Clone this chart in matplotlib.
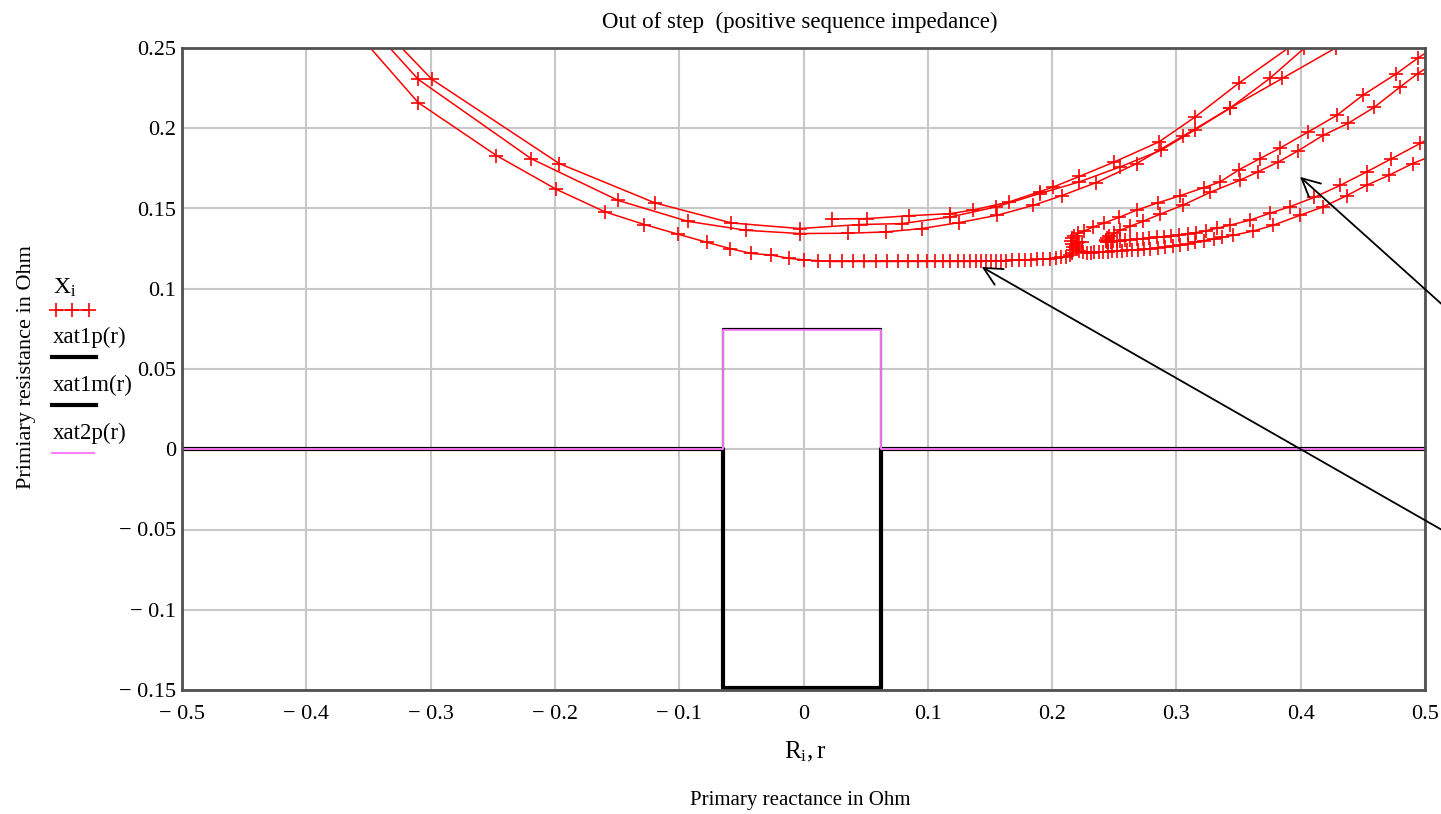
import matplotlib.pyplot as plt
from matplotlib.lines import Line2D
from matplotlib.ticker import FuncFormatter, MultipleLocator

plt.rcParams['font.family'] = ['Liberation Serif', 'DejaVu Serif']
plt.rcParams['mathtext.fontset'] = 'custom'
plt.rcParams['mathtext.rm'] = 'Liberation Serif'
plt.rcParams['mathtext.it'] = 'Liberation Serif:italic'

# impedance trajectory X_i(R_i), split into the branches that cross the frame
# branch 1: swing in from upper left, slow creep along the bottom, turn and leave upper right
R_a = [-0.362, -0.310, -0.247, -0.199, -0.160, -0.128, -0.101, -0.078, -0.059, -0.042,
       -0.026, -0.012, 0.000, 0.012, 0.021, 0.031, 0.040, 0.049, 0.058, 0.067,
       0.076, 0.084, 0.092, 0.099, 0.106, 0.112, 0.118, 0.124, 0.129, 0.134,
       0.139, 0.143, 0.147, 0.151, 0.155, 0.159, 0.163, 0.168, 0.173, 0.178,
       0.183, 0.188, 0.193, 0.198, 0.203, 0.207, 0.211, 0.214, 0.216, 0.217,
       0.217, 0.216, 0.215, 0.216, 0.218, 0.221, 0.226, 0.233, 0.242, 0.254,
       0.268, 0.285, 0.303, 0.322, 0.335, 0.350, 0.367, 0.383, 0.406, 0.429,
       0.450, 0.477, 0.494, 0.530]
X_a = [0.262, 0.216, 0.183, 0.162, 0.148, 0.140, 0.134, 0.129, 0.125, 0.122,
       0.121, 0.119, 0.118, 0.1175, 0.117, 0.117, 0.117, 0.117, 0.117, 0.117,
       0.117, 0.117, 0.117, 0.117, 0.117, 0.117, 0.117, 0.117, 0.117, 0.117,
       0.117, 0.117, 0.1172, 0.1172, 0.1174, 0.1175, 0.1176, 0.1178, 0.118, 0.118,
       0.1182, 0.1184, 0.1186, 0.1188, 0.119, 0.1195, 0.120, 0.121, 0.1225, 0.124,
       0.126, 0.128, 0.130, 0.1315, 0.133, 0.1345, 0.136, 0.1385, 0.141, 0.1445,
       0.149, 0.1535, 0.158, 0.163, 0.1665, 0.174, 0.181, 0.1875, 0.1977, 0.208,
       0.2206, 0.234, 0.2436, 0.262]

# branch 2: back in along the upper lower-right line, second turn, out again
R_b = [0.530, 0.496, 0.473, 0.453, 0.432, 0.411, 0.391, 0.375, 0.359, 0.343,
       0.333, 0.324, 0.316, 0.309, 0.302, 0.296, 0.290, 0.284, 0.278, 0.273,
       0.268, 0.263, 0.259, 0.255, 0.252, 0.249, 0.247, 0.245, 0.244, 0.243,
       0.243, 0.244, 0.246, 0.250, 0.2546, 0.263, 0.273, 0.287, 0.305, 0.327,
       0.351, 0.366, 0.382, 0.398, 0.418, 0.438, 0.459, 0.480, 0.494, 0.530]
X_b = [0.205, 0.1905, 0.181, 0.1728, 0.1645, 0.157, 0.151, 0.147, 0.1427, 0.1396,
       0.1378, 0.1362, 0.135, 0.1342, 0.1335, 0.1329, 0.1324, 0.132, 0.1316, 0.1312,
       0.1309, 0.1306, 0.1303, 0.130, 0.1298, 0.1296, 0.1294, 0.1292, 0.129, 0.1295,
       0.1305, 0.1318, 0.133, 0.1345, 0.1364, 0.139, 0.142, 0.1465, 0.152, 0.160,
       0.1676, 0.173, 0.179, 0.186, 0.1956, 0.203, 0.213, 0.2257, 0.234, 0.252]

# branch 3: back in along the lowest right line, settling near the first turn
R_c = [0.530, 0.490, 0.471, 0.453, 0.437, 0.418, 0.3995, 0.378, 0.362, 0.3455,
       0.337, 0.330, 0.322, 0.315, 0.309, 0.303, 0.297, 0.291, 0.285, 0.279,
       0.274, 0.269, 0.264, 0.260, 0.256, 0.252, 0.248, 0.245, 0.241, 0.238,
       0.234, 0.231, 0.228, 0.225, 0.222, 0.220, 0.219, 0.219, 0.220, 0.222,
       0.224]
X_c = [0.1905, 0.178, 0.1707, 0.1645, 0.158, 0.151, 0.1458, 0.1396, 0.136, 0.1333,
       0.1321, 0.131, 0.130, 0.129, 0.128, 0.127, 0.1265, 0.126, 0.1255, 0.125,
       0.1247, 0.1244, 0.1241, 0.124, 0.1238, 0.1236, 0.1234, 0.1232, 0.123, 0.1228,
       0.1226, 0.1225, 0.1225, 0.1228, 0.1235, 0.1245, 0.126, 0.1275, 0.1285, 0.129,
       0.1292]

# upper pair of swings through the minimum near R = 0
R_d = [-0.345, -0.310, -0.219, -0.149, -0.093, -0.046, -0.003, 0.036, 0.066, 0.095,
       0.125, 0.156, 0.185, 0.2077, 0.235, 0.268, 0.305, 0.343, 0.385, 0.428, 0.450]
X_d = [0.2605, 0.2305, 0.181, 0.155, 0.142, 0.1364, 0.1344, 0.1346, 0.1354, 0.1375,
       0.1412, 0.1458, 0.152, 0.158, 0.166, 0.178, 0.195, 0.2125, 0.231, 0.250, 0.2595]

R_e = [-0.335, -0.299, -0.1965, -0.1195, -0.058, -0.003, 0.045, 0.079, 0.118, 0.155,
       0.190, 0.222, 0.255, 0.2876, 0.315, 0.343, 0.375, 0.403, 0.420]
X_e = [0.2595, 0.2305, 0.178, 0.1535, 0.141, 0.1375, 0.140, 0.1406, 0.1447, 0.151,
       0.1593, 0.1666, 0.176, 0.1863, 0.199, 0.2125, 0.231, 0.250, 0.260]

R_f = [0.023, 0.051, 0.085, 0.118, 0.136, 0.165, 0.190, 0.201, 0.222, 0.250,
       0.286, 0.315, 0.350, 0.390, 0.405]
X_f = [0.1435, 0.1437, 0.1455, 0.1468, 0.149, 0.154, 0.1605, 0.1634, 0.170, 0.179,
       0.1915, 0.207, 0.228, 0.250, 0.259]

branches = [(R_a, X_a), (R_b, X_b), (R_c, X_c), (R_d, X_d), (R_e, X_e), (R_f, X_f)]

# relay characteristics xat1p, xat1m, xat2p over r
r_1 = [-0.5, -0.065, -0.065, 0.062, 0.062, 0.5]
xat1p = [0.0, 0.0, 0.0752, 0.0752, 0.0, 0.0]
xat1m = [0.0, 0.0, -0.149, -0.149, 0.0, 0.0]
r_2 = [-0.5, -0.0645, -0.0645, 0.0627, 0.0627, 0.5]
xat2p = [0.0, 0.0, 0.0741, 0.0741, 0.0, 0.0]

PINK = '#ff80ff'
W, H = 1441, 814


def fx(px):
    return px / W


def fy(py):
    return 1 - py / H


fig = plt.figure(figsize=(W / 100, H / 100), dpi=100)
ax = fig.add_axes([fx(182), fy(690), (1425 - 182) / W, (690 - 48) / H])

for R, X in branches:
    ax.plot(R, X, color='red', lw=1.1, marker='+', ms=10, mew=1.2)

ax.plot(r_1, xat1p, color='black', lw=1.6)
ax.plot(r_1, xat1m, color='black', lw=3.0)
ax.plot(r_2, xat2p, color=PINK, lw=1.3)

arrow = dict(arrowstyle='->,head_length=1.3,head_width=0.65', color='black',
             lw=1.3, mutation_scale=10, shrinkA=0, shrinkB=0)
ax.annotate('', xy=(0.3995, 0.1697), xytext=(0.56, 0.058),
            arrowprops=arrow, annotation_clip=False)
ax.annotate('', xy=(0.1434, 0.1136), xytext=(0.56, -0.0708),
            arrowprops=arrow, annotation_clip=False)

ax.set_xlim(-0.5, 0.5)
ax.set_ylim(-0.15, 0.25)
ax.xaxis.set_major_locator(MultipleLocator(0.1))
ax.yaxis.set_major_locator(MultipleLocator(0.05))


def minus_fmt(v, pos):
    v = round(v, 4)
    if abs(v) < 1e-9:
        return '0'
    s = f'{abs(v):g}'
    return '\u2212 ' + s if v < 0 else s


ax.xaxis.set_major_formatter(FuncFormatter(minus_fmt))
ax.yaxis.set_major_formatter(FuncFormatter(minus_fmt))
ax.tick_params(length=0, labelsize=16, colors='black')
ax.tick_params(axis='x', pad=11)
ax.tick_params(axis='y', pad=4)
ax.grid(True, color='#c8c8c8', lw=1.5)
ax.set_axisbelow(True)
for sp in ax.spines.values():
    sp.set_color('#505050')
    sp.set_linewidth(2)

fig.text(fx(800), fy(22), 'Out of step  (positive sequence impedance)',
         ha='center', va='center', fontsize=16.5)
fig.text(fx(805), fy(752), r'$\mathrm{R_i,r}$', ha='center', va='center', fontsize=18)
fig.text(fx(800), fy(800), 'Primary reactance in Ohm', ha='center', va='center', fontsize=15)
fig.text(fx(27), fy(367), 'Primiary resistance in Ohm', ha='center', va='center',
         rotation=90, fontsize=16)

# legend block to the left of the plot, label above its line sample
fig.text(fx(53), fy(288), r'$\mathrm{X_i}$', ha='left', va='center', fontsize=17)
fig.add_artist(Line2D([fx(56), fx(72), fx(89)], [fy(310)] * 3, color='red', lw=1.1,
                      marker='+', ms=10, mew=1.2, transform=fig.transFigure))
fig.text(fx(53), fy(337), 'xat1p(r)', ha='left', va='center', fontsize=16.5)
fig.add_artist(Line2D([fx(52), fx(96)], [fy(357), fy(357)], color='black', lw=3,
                      transform=fig.transFigure))
fig.text(fx(53), fy(385), 'xat1m(r)', ha='left', va='center', fontsize=16.5)
fig.add_artist(Line2D([fx(52), fx(96)], [fy(405), fy(405)], color='black', lw=3,
                      transform=fig.transFigure))
fig.text(fx(53), fy(433), 'xat2p(r)', ha='left', va='center', fontsize=16.5)
fig.add_artist(Line2D([fx(52), fx(94)], [fy(453), fy(453)], color=PINK, lw=1.5,
                      transform=fig.transFigure))

fig.savefig('out.png', dpi=100)
